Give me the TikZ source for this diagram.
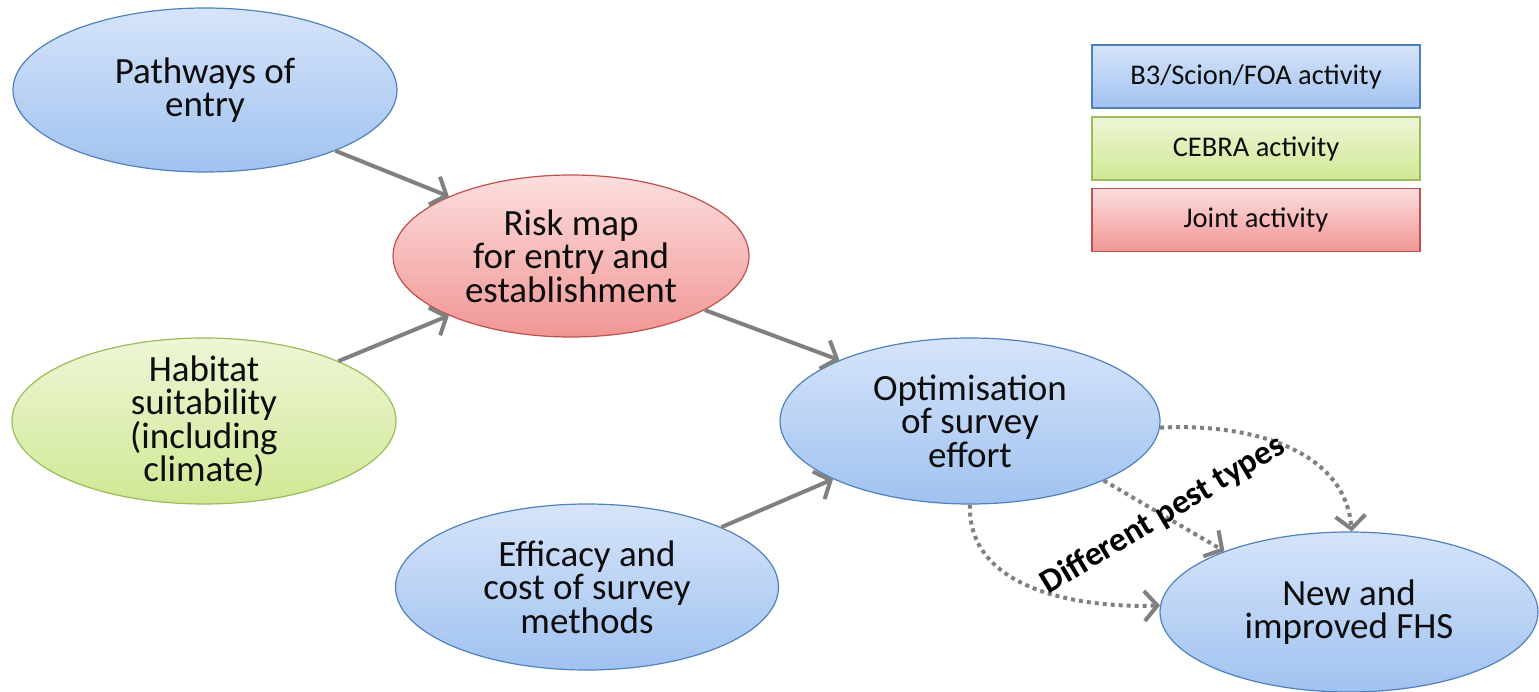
\documentclass[tikz,border=0pt]{standalone}
\usepackage{fontspec}
\setmainfont{Carlito}
\usetikzlibrary{shapes.geometric,arrows.meta}

\definecolor{bluetop}{RGB}{214,228,250}
\definecolor{bluebot}{RGB}{160,194,240}
\definecolor{blueline}{RGB}{79,129,189}
\definecolor{greentop}{RGB}{238,246,214}
\definecolor{greenbot}{RGB}{208,232,148}
\definecolor{greenline}{RGB}{155,187,89}
\definecolor{redtop}{RGB}{252,222,222}
\definecolor{redbot}{RGB}{240,150,148}
\definecolor{redline}{RGB}{192,80,77}
\definecolor{arrowgray}{RGB}{128,128,128}

\tikzset{
  blob/.style={ellipse, draw=#1line, line width=1.2pt, top color=#1top, bottom color=#1bot,
    inner sep=-14pt, align=center, font=\fontsize{37}{33.5}\selectfont, text=black!95},
  key/.style={rectangle, draw=#1line, line width=1.2pt, top color=#1top, bottom color=#1bot,
    minimum width=328pt, minimum height=63pt, font=\fontsize{28.5}{30}\selectfont, text=black!95},
  link/.style={draw=arrowgray, line width=4pt, -{Straight Barb[length=13pt,width=30pt]}},
  pestlink/.style={link, dash pattern=on 4pt off 4pt},
}

\begin{document}
\begin{tikzpicture}[x=1pt, y=-1pt]
    \useasboundingbox (0,0) rectangle (1539,692);

    % activities
    \node[blob=blue, minimum width=384pt, minimum height=164pt] (paths) at (205,90) {Pathways of\\entry};
    \node[blob=red, minimum width=356pt, minimum height=162pt] (risk) at (571,256) {Risk map\\for entry and\\establishment};
    \node[blob=green, minimum width=384pt, minimum height=166pt] (habitat) at (204,421) {Habitat\\suitability\\(including\\climate)};
    \node[blob=blue, minimum width=383pt, minimum height=166pt] (efficacy) at (587,587) {Efficacy and\\cost of survey\\methods};
    \node[blob=blue, minimum width=380pt, minimum height=166pt] (optim) at (970,421) {Optimisation\\of survey\\effort};
    \node[blob=blue, minimum width=378pt, minimum height=160pt] (fhs) at (1349,612) {New and\\improved FHS};

    % legend
    \node[key=blue] (keyb3) at (1256,76.5) {B3/Scion/FOA activity};
    \node[key=green] (keycebra) at (1256,148.5) {CEBRA activity};
    \node[key=red] (keyjoint) at (1256,220) {Joint activity};

    \draw[link] (paths.-25) -- (risk.154);
    \draw[link] (habitat.24) -- (risk.206);
    \draw[link] (risk.-22) -- (optim.155);
    \draw[link] (efficacy.24) -- (optim.203);

    \draw[pestlink] (optim.-2) to[out=3, in=95] (fhs.88);
    \draw[pestlink] (optim.-24) -- (fhs.154);
    \draw[pestlink] (optim.-90) to[out=-92, in=182] (fhs.178);

    \node[font=\fontsize{34}{34}\selectfont\bfseries, rotate=31] (pests) at (1163,515) {Different pest types};
\end{tikzpicture}
\end{document}
